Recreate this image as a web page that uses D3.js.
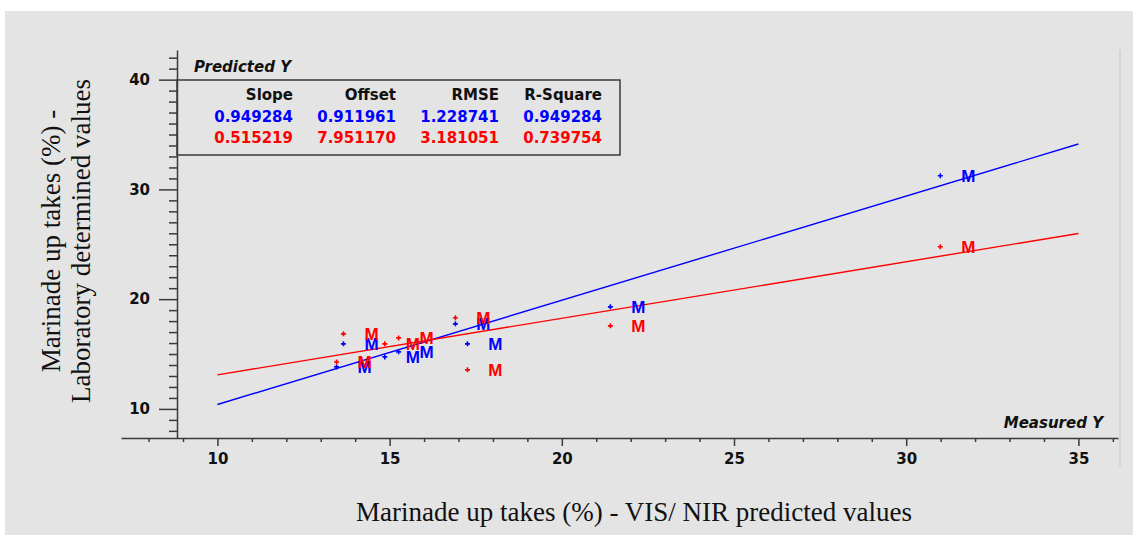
<!DOCTYPE html>
<html>
<head>
<meta charset="utf-8">
<script src="https://cdn.jsdelivr.net/npm/d3@7"></script>
<style>
  body { margin: 0; background: #fff; }
  .tick text { font-family: "DejaVu Sans", sans-serif; font-weight: bold; font-size: 15px; fill: #111; }
  .axis path, .axis line { stroke: #3a3a3a; stroke-width: 1.5; }
</style>
</head>
<body>
<div id="chart"></div>
<script>
// samples: measured Y on x, predicted Y (two models) on y
const measured = [13.46, 13.66, 14.86, 15.26, 16.91, 17.26, 21.41, 30.99];
const predBlue = [13.83, 15.93, 14.74, 15.20, 17.75, 15.93, 19.30, 31.24];
const predRed  = [14.28, 16.84, 15.93, 16.47, 18.30, 13.56, 17.57, 24.77];
const sampleNames = ['M', 'M', 'M', 'M', 'M', 'M', 'M', 'M'];

// fit statistics per model
const models = ['blue', 'red'];
const slopes = [0.949284, 0.515219];
const offsets = [0.911961, 7.951170];
const rmse = [1.228741, 3.181051];
const rsquare = [0.949284, 0.739754];
const statHeaders = ['Slope', 'Offset', 'RMSE', 'R-Square'];

const xMajor = [10, 15, 20, 25, 30, 35];
const yMajor = [10, 20, 30, 40];
const fitRange = [10, 35];

const W = 1133, H = 535;
const colors = {blue: '#0000ff', red: '#ff0000'};

const svg = d3.select('#chart').append('svg')
  .attr('width', W)
  .attr('height', H);

// grey panel
svg.append('rect')
  .attr('x', 5).attr('y', 11)
  .attr('width', W - 5).attr('height', H - 11)
  .attr('fill', '#e4e4e4');
svg.append('line')
  .attr('x1', 1120).attr('x2', 1120)
  .attr('y1', 50).attr('y2', 467)
  .attr('stroke', '#d6d6d6').attr('stroke-width', 2);

const x = d3.scaleLinear().domain([7.2, 36.15]).range([121, 1118]);
const y = d3.scaleLinear().domain([7.35, 42.7]).range([438, 50]);

const x0 = 177; // where y axis sits
const y0 = 438;

// x axis: minor then major
const xMinor = d3.range(8, 37).filter(v => !xMajor.includes(v));
svg.append('g')
  .attr('class', 'axis')
  .attr('transform', `translate(0,${y0})`)
  .call(d3.axisBottom(x).tickValues(xMinor).tickSize(4).tickSizeOuter(0).tickFormat(''));
svg.append('g')
  .attr('class', 'axis')
  .attr('transform', `translate(0,${y0})`)
  .call(d3.axisBottom(x).tickValues(xMajor).tickSize(8).tickSizeOuter(0).tickPadding(7))
  .select('.domain').remove();

// y axis
const yMinor = d3.range(8, 43).filter(v => !yMajor.includes(v));
svg.append('g')
  .attr('class', 'axis')
  .attr('transform', `translate(${x0},0)`)
  .call(d3.axisLeft(y).tickValues(yMinor).tickSize(8).tickSizeOuter(0).tickFormat(''));
svg.append('g')
  .attr('class', 'axis')
  .attr('transform', `translate(${x0},0)`)
  .call(d3.axisLeft(y).tickValues(yMajor).tickSize(18).tickSizeOuter(0).tickPadding(9))
  .select('.domain').remove();

// regression lines
models.forEach((m, i) => {
  svg.append('line')
    .attr('x1', x(fitRange[0])).attr('y1', y(slopes[i] * fitRange[0] + offsets[i]))
    .attr('x2', x(fitRange[1])).attr('y2', y(slopes[i] * fitRange[1] + offsets[i]))
    .attr('stroke', colors[m])
    .attr('stroke-width', 1.4);
});

// points and sample labels
const series = [
  {name: 'blue', vals: predBlue},
  {name: 'red', vals: predRed}
];
series.forEach(s => {
  const g = svg.append('g');
  const pts = measured.map((mv, i) => ({x: mv, y: s.vals[i], label: sampleNames[i]}));
  g.selectAll('path.pt')
    .data(pts)
    .enter().append('path')
      .attr('class', 'pt')
      .attr('d', d => {
        const px = x(d.x), py = y(d.y);
        return `M${px - 2.5},${py}H${px + 2.5}M${px},${py - 2.5}V${py + 2.5}`;
      })
      .attr('stroke', colors[s.name])
      .attr('stroke-width', 1.6);
  g.selectAll('text')
    .data(pts)
    .enter().append('text')
      .attr('x', d => x(d.x) + 28)
      .attr('y', d => y(d.y))
      .attr('dy', '0.36em')
      .attr('text-anchor', 'middle')
      .style('font-family', '"Liberation Sans", Arial, sans-serif')
      .style('font-weight', 'bold')
      .style('font-size', '17px')
      .attr('fill', colors[s.name])
      .text(d => d.label);
});

// legend box
const legendFont = '"DejaVu Sans", sans-serif';
svg.append('text')
  .attr('x', 194).attr('y', 72)
  .style('font-family', legendFont)
  .style('font-weight', 'bold')
  .style('font-style', 'italic')
  .style('font-size', '15px')
  .attr('fill', '#111')
  .text('Predicted Y');

svg.append('rect')
  .attr('x', x0).attr('y', 80)
  .attr('width', 620 - x0).attr('height', 75)
  .attr('fill', 'none')
  .attr('stroke', '#3a3a3a')
  .attr('stroke-width', 1.5);

const colX = [293, 396, 499, 602];
const rows = [
  {color: '#111', cells: statHeaders, y: 100},
  {color: colors.blue, cells: [slopes[0], offsets[0], rmse[0], rsquare[0]].map(v => v.toFixed(6)), y: 122},
  {color: colors.red, cells: [slopes[1], offsets[1], rmse[1], rsquare[1]].map(v => v.toFixed(6)), y: 143}
];
rows.forEach(r => {
  svg.append('g').selectAll('text')
    .data(r.cells)
    .enter().append('text')
      .attr('x', (d, i) => colX[i])
      .attr('y', r.y)
      .attr('text-anchor', 'end')
      .style('font-family', legendFont)
      .style('font-weight', 'bold')
      .style('font-size', '15px')
      .attr('fill', r.color)
      .text(d => d);
});

svg.append('text')
  .attr('x', 1103).attr('y', 428)
  .attr('text-anchor', 'end')
  .style('font-family', legendFont)
  .style('font-weight', 'bold')
  .style('font-style', 'italic')
  .style('font-size', '15px')
  .attr('fill', '#111')
  .text('Measured Y');

// axis titles
const serif = '"Liberation Serif", "Times New Roman", serif';
svg.append('text')
  .attr('x', 634).attr('y', 521)
  .attr('text-anchor', 'middle')
  .style('font-family', serif)
  .style('font-size', '27px')
  .attr('fill', '#111')
  .text('Marinade up takes (%) - VIS/ NIR predicted values');

const ylab = svg.append('text')
  .attr('transform', 'translate(60,241) rotate(-90)')
  .attr('text-anchor', 'middle')
  .style('font-family', serif)
  .style('font-size', '27px')
  .attr('fill', '#111');
ylab.append('tspan').attr('x', 0).attr('y', 0).text('Marinade up takes (%) -');
ylab.append('tspan').attr('x', 0).attr('y', 30).text('Laboratory determined values');
</script>
</body>
</html>
